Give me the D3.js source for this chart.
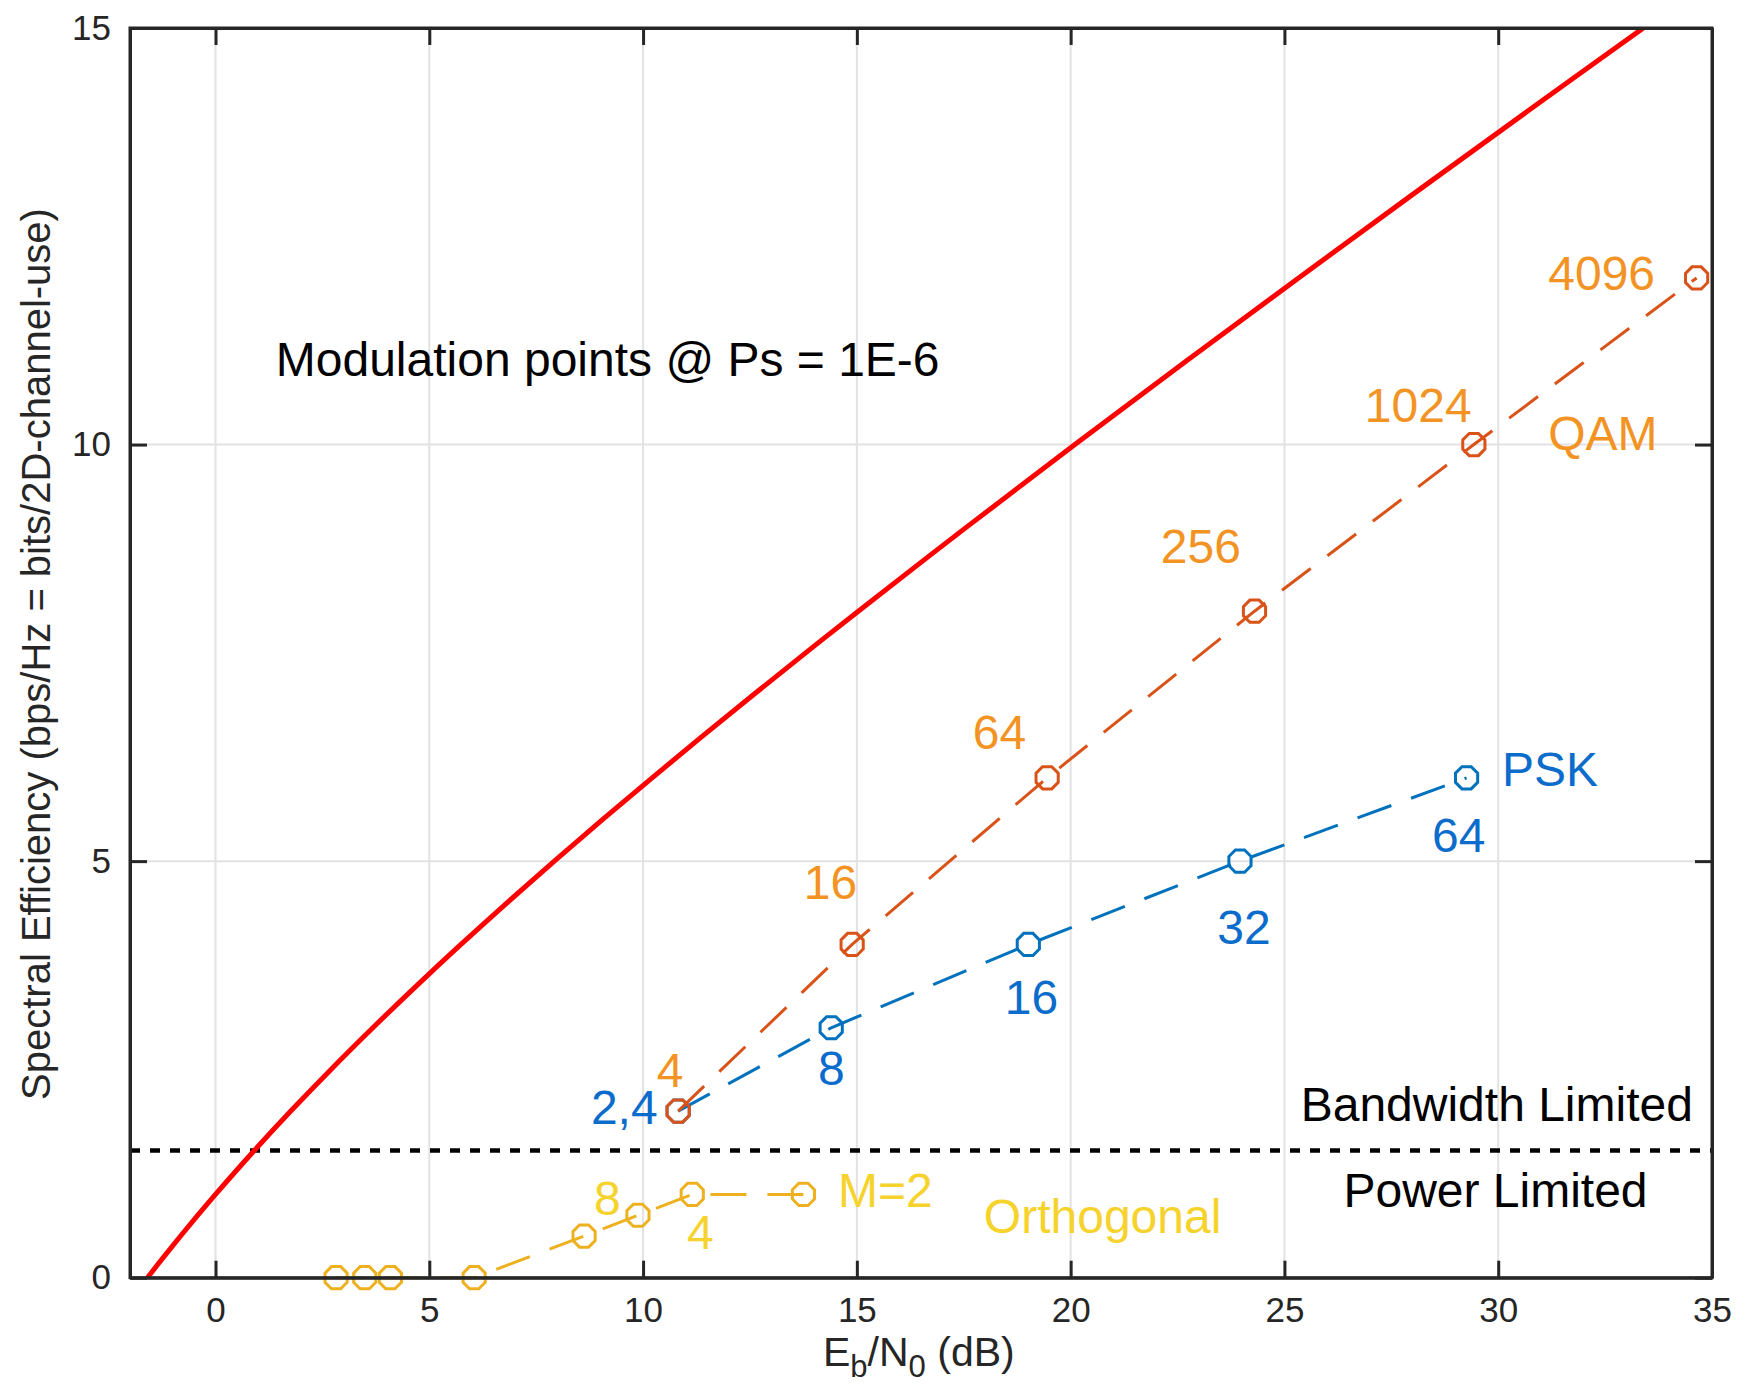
<!DOCTYPE html>
<html>
<head>
<meta charset="utf-8">
<script src="https://cdn.jsdelivr.net/npm/d3@7"></script>
<style>
  html, body { margin: 0; padding: 0; background: #ffffff; }
  svg { display: block; font-family: "Liberation Sans", Arial, Helvetica, sans-serif; }
</style>
</head>
<body>
<svg id="chart" width="1737" height="1388"></svg>
<script>
// ---------------- data ----------------
// Shannon bound: Eb/N0 in dB and spectral efficiency
const shannonEbN0 = [-1.592, -1.210, -0.817, -0.414, 0.000, 0.860, 1.761, 2.701, 3.680, 4.694, 5.740, 6.818, 7.924, 9.056, 10.212, 11.389, 12.587, 13.802, 15.034, 17.542, 20.099, 22.697, 25.331, 27.994, 30.683, 33.394];
const shannonEta   = [0, 0.25, 0.5, 0.75, 1, 1.5, 2, 2.5, 3, 3.5, 4, 4.5, 5, 5.5, 6, 6.5, 7, 7.5, 8, 9, 10, 11, 12, 13, 14, 15];

const qamEbN0 = [10.82, 14.89, 19.45, 24.30, 29.43, 34.64];
const qamEta  = [2, 4, 6, 8, 10, 12];
const qamNames = ["4", "16", "64", "256", "1024", "4096"];

const pskEbN0 = [10.82, 14.40, 19.01, 23.96, 29.26];
const pskEta  = [2, 3, 4, 5, 6];
const pskNames = ["2,4", "8", "16", "32", "64"];

const orthEbN0 = [13.75, 11.15, 9.88, 8.62, 6.05, 4.09, 3.49, 2.82];
const orthEta  = [1, 1, 0.75, 0.5, 0, 0, 0, 0];
const orthNames = ["M=2", "4", "8"];

const boundaryEta = 1.527;

const xTicks = [0, 5, 10, 15, 20, 25, 30, 35];
const yTicks = [0, 5, 10, 15];
const xTickLabels = ["0", "5", "10", "15", "20", "25", "30", "35"];
const yTickLabels = ["0", "5", "10", "15"];

// annotation anchors in data coordinates (text start, baseline)
const qamLabelAt = [[10.32, 2.29], [13.76, 4.55], [17.71, 6.35], [22.11, 8.58], [26.88, 10.27], [31.17, 11.86]];
const pskLabelAt = [[8.78, 1.85], [14.09, 2.31], [18.46, 3.17], [23.43, 4.01], [28.45, 5.11]];
const orthLabelAt = [[14.56, 0.85], [11.03, 0.34], [8.85, 0.75]];

// ---------------- layout ----------------
const svg = d3.select("#chart");
const L = 130, R = 1712, T = 28, B = 1277.7;
const x = d3.scaleLinear().domain([-2, 35]).range([L, R]);
const y = d3.scaleLinear().domain([0, 15]).range([B, T]);

const C = {
  axis: "#262626", grid: "#e2e2e2",
  red: "#ff0000",
  qamLine: "#d95319", qamText: "#f39324",
  pskLine: "#0072bd", pskText: "#0b6ccc",
  orthLine: "#edb120", orthText: "#f6d22c"
};
const FS = 48;

svg.append("defs").append("clipPath").attr("id", "plotclip")
  .append("rect").attr("x", L).attr("y", T).attr("width", R - L).attr("height", B - T);

// grid
const grid = svg.append("g");
grid.selectAll("line.vx").data(xTicks.filter(d => d > -2 && d < 35)).join("line")
  .attr("x1", d => x(d)).attr("x2", d => x(d)).attr("y1", T).attr("y2", B)
  .attr("stroke", C.grid).attr("stroke-width", 2);
grid.selectAll("line.hy").data(yTicks.filter(d => d > 0 && d < 15)).join("line")
  .attr("y1", d => y(d)).attr("y2", d => y(d)).attr("x1", L).attr("x2", R)
  .attr("stroke", C.grid).attr("stroke-width", 2);

const plot = svg.append("g").attr("clip-path", "url(#plotclip)");

// boundary dotted line
plot.append("line")
  .attr("x1", x(-2)).attr("x2", x(35)).attr("y1", y(boundaryEta)).attr("y2", y(boundaryEta))
  .attr("stroke", "#000").attr("stroke-width", 4.5).attr("stroke-dasharray", "10 10");

// Shannon curve
const shannon = shannonEbN0.map((v, i) => [v, shannonEta[i]]);
plot.append("path").datum(shannon)
  .attr("d", d3.line().x(d => x(d[0])).y(d => y(d[1])).curve(d3.curveCatmullRom))
  .attr("fill", "none").attr("stroke", C.red).attr("stroke-width", 5);

// octagon marker path
function octagon(r) {
  const pts = d3.range(8).map(k => {
    const a = Math.PI / 8 + k * Math.PI / 4;
    return [r * Math.cos(a), r * Math.sin(a)];
  });
  return d3.line().curve(d3.curveLinearClosed)(pts);
}

function series(xs, ys, color) {
  const pts = xs.map((v, i) => [v, ys[i]]);
  const g = svg.append("g");
  g.append("path").datum(pts)
    .attr("d", d3.line().x(d => x(d[0])).y(d => y(d[1])))
    .attr("fill", "none").attr("stroke", color).attr("stroke-width", 3)
    .attr("stroke-dasharray", "36 21");
  g.selectAll("path.m").data(pts).join("path")
    .attr("class", "m")
    .attr("d", octagon(12))
    .attr("transform", d => `translate(${x(d[0])},${y(d[1])})`)
    .attr("fill", "none").attr("stroke", color).attr("stroke-width", 3);
}
series(orthEbN0, orthEta, C.orthLine);
series(pskEbN0, pskEta, C.pskLine);
series(qamEbN0, qamEta, C.qamLine);

// labels
function labels(names, at, color) {
  svg.append("g").selectAll("text").data(names).join("text")
    .attr("x", (d, i) => x(at[i][0])).attr("y", (d, i) => y(at[i][1]))
    .attr("fill", color).attr("font-size", FS).text(d => d);
}
labels(qamNames, qamLabelAt, C.qamText);
labels(pskNames, pskLabelAt, C.pskText);
labels(orthNames, orthLabelAt, C.orthText);

function note(t, xd, yd, color) {
  svg.append("text").attr("x", x(xd)).attr("y", y(yd))
    .attr("fill", color).attr("font-size", FS).text(t);
}
note("QAM", 31.17, 9.93, C.qamText);
note("PSK", 30.09, 5.90, C.pskText);
note("Orthogonal", 17.97, 0.54, C.orthText);
note("Bandwidth Limited", 25.38, 1.88, "#000");
note("Power Limited", 26.38, 0.85, "#000");
note("Modulation points @ Ps = 1E-6", 1.41, 10.82, "#000");

// axes
const TK = 17;
const axB = svg.append("g").attr("transform", `translate(0,${B})`)
  .call(d3.axisBottom(x).tickValues(xTicks).tickFormat((d, i) => xTickLabels[i]).tickSizeInner(-TK).tickSizeOuter(0).tickPadding(19));
const axT = svg.append("g").attr("transform", `translate(0,${T})`)
  .call(d3.axisTop(x).tickValues(xTicks).tickFormat("").tickSizeInner(-TK).tickSizeOuter(0));
const axL = svg.append("g").attr("transform", `translate(${L},0)`)
  .call(d3.axisLeft(y).tickValues(yTicks).tickFormat((d, i) => yTickLabels[i]).tickSizeInner(-TK).tickSizeOuter(0).tickPadding(19));
const axR = svg.append("g").attr("transform", `translate(${R},0)`)
  .call(d3.axisRight(y).tickValues(yTicks).tickFormat("").tickSizeInner(-TK).tickSizeOuter(0));
[axB, axT, axL, axR].forEach(a => {
  a.select(".domain").attr("stroke", C.axis).attr("stroke-width", 3);
  a.selectAll(".tick line").attr("stroke", C.axis).attr("stroke-width", 3);
  a.selectAll(".tick text").attr("fill", C.axis).attr("font-size", 35)
    .attr("font-family", "'Liberation Sans', Arial, Helvetica, sans-serif");
});
// close corners
svg.append("rect").attr("x", L).attr("y", T).attr("width", R - L).attr("height", B - T)
  .attr("fill", "none").attr("stroke", C.axis).attr("stroke-width", 3);

// axis titles
const xt = svg.append("text").attr("x", 823).attr("y", 1366).attr("fill", C.axis).attr("font-size", 41);
xt.append("tspan").text("E");
xt.append("tspan").attr("font-size", 31).attr("dy", 11).text("b");
xt.append("tspan").attr("dy", -11).text("/N");
xt.append("tspan").attr("font-size", 31).attr("dy", 11).text("0");
xt.append("tspan").attr("dy", -11).text(" (dB)");

svg.append("text")
  .attr("transform", "translate(50,654) rotate(-90)")
  .attr("text-anchor", "middle").attr("fill", C.axis).attr("font-size", 40)
  .text("Spectral Efficiency (bps/Hz = bits/2D-channel-use)");
</script>
</body>
</html>
